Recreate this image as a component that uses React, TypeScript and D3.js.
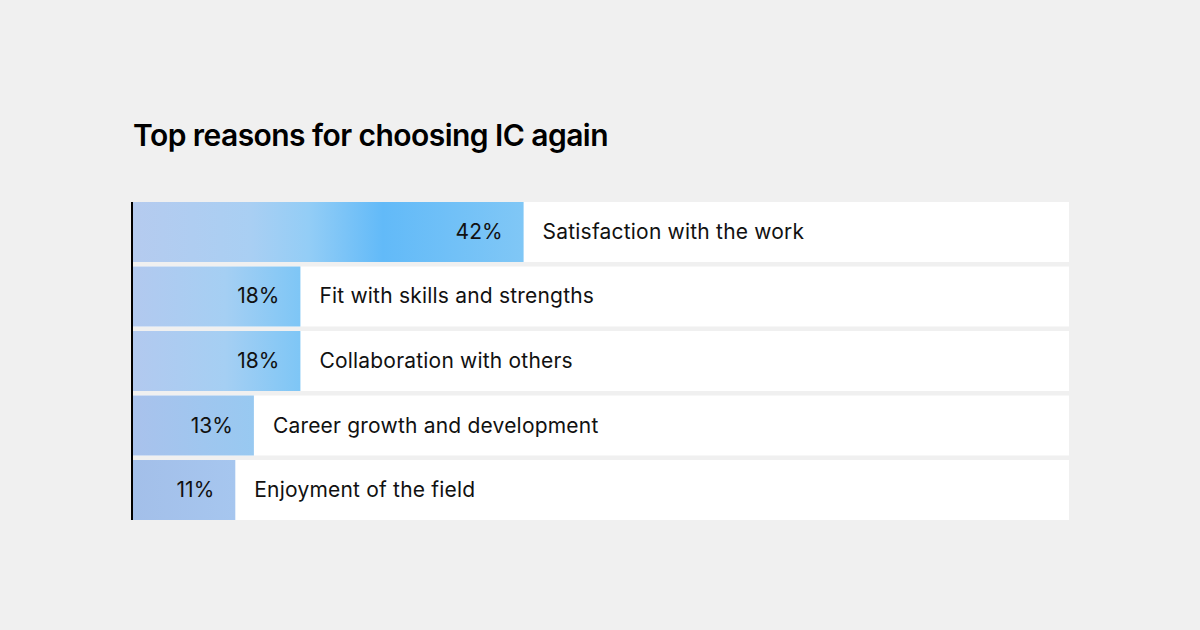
import React from "react";
import * as d3 from "d3";

const categories = [
  "Satisfaction with the work",
  "Fit with skills and strengths",
  "Collaboration with others",
  "Career growth and development",
  "Enjoyment of the field",
];
const values = [42, 18, 18, 13, 11];
const title = "Top reasons for choosing IC again";

const gradStops: [number, string][][] = [
  [[0, "#b5cbef"], [0.3, "#a9cff3"], [0.45, "#93cdf6"], [0.64, "#62baf8"], [1, "#80c7f6"]],
  [[0, "#b2c9ef"], [0.55, "#a5cff3"], [1, "#7ec6f6"]],
  [[0, "#b2c9ef"], [0.55, "#a5cff3"], [1, "#7ec6f6"]],
  [[0, "#a9c2ec"], [1, "#98c9f1"]],
  [[0, "#a3bfe9"], [1, "#a6c6ef"]],
];

export default function App() {
  const W = 1200, H = 630;
  const x0 = 133, x1 = 1069;
  const x = d3.scaleLinear().domain([0, 100]).range([x0, x0 + 930]);
  const y = d3.scaleBand<string>().domain(categories).range([202, 520]).paddingInner(0.07).paddingOuter(0);
  const font = "Inter, 'Noto Sans', sans-serif";
  return (
    <svg width={W} height={H} style={{ position: "absolute", left: 0, top: 0, display: "block" }}>
      <defs>
        {gradStops.map((stops, i) => (
          <linearGradient key={i} id={`g${i}`} x1="0" x2="1" y1="0" y2="0">
            {stops.map(([o, c], j) => (
              <stop key={j} offset={o} stopColor={c} />
            ))}
          </linearGradient>
        ))}
      </defs>
      <rect width={W} height={H} fill="#f0f0f0" />
      <text x={x0} y={146} fontFamily={font} fontSize={30} fontWeight={600} fill="#000" letterSpacing={-0.55}>
        {title}
      </text>
      {categories.map((c, i) => {
        const yy = y(c)!;
        const bw = y.bandwidth();
        const xe = x(values[i]);
        return (
          <g key={c}>
            <rect x={x0} y={yy} width={x1 - x0} height={bw} fill="#fff" />
            <rect x={x0} y={yy} width={xe - x0} height={bw} fill={`url(#g${i})`} />
            <text x={xe - 21} y={yy + bw / 2 + 7} textAnchor="end" fontFamily={font} fontSize={21} fill="#111">
              {values[i]}%
            </text>
            <text x={xe + 19} y={yy + bw / 2 + 7} fontFamily={font} fontSize={21} letterSpacing={0.2} fill="#111">
              {c}
            </text>
          </g>
        );
      })}
      <line x1={x0 - 1} x2={x0 - 1} y1={202} y2={520} stroke="#000" strokeWidth={2} />
    </svg>
  );
}
